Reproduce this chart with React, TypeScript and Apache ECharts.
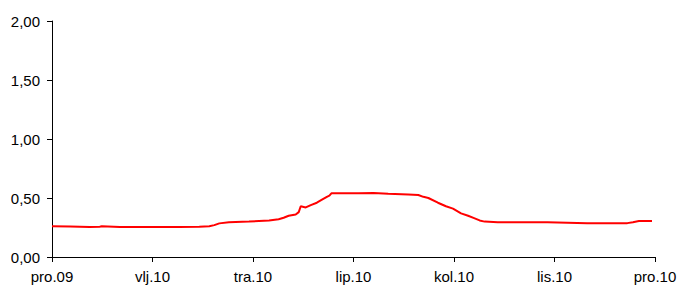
import React, { useEffect, useRef } from "react";
import * as echarts from "echarts";

const tickLabels = ["pro.09", "vlj.10", "tra.10", "lip.10", "kol.10", "lis.10", "pro.10"];
// position in months since pro.09
const monthPos = [
  0, 0.36, 0.75, 0.95, 0.99, 1.35, 1.94, 2.53, 2.93, 3.13, 3.23, 3.33, 3.52, 3.92, 4.32, 4.51,
  4.61, 4.71, 4.85, 4.91, 4.95, 5.05, 5.15, 5.27, 5.39, 5.47, 5.52, 5.56, 6.1, 6.4, 6.69, 7.09,
  7.29, 7.39, 7.49, 7.68, 7.84, 7.98, 8.14, 8.28, 8.4, 8.51, 8.61, 8.87, 9.86, 10.65, 11.45,
  11.56, 11.68, 11.94,
];
const values = [
  0.26, 0.258, 0.255, 0.257, 0.26, 0.255, 0.255, 0.255, 0.257, 0.26, 0.27, 0.285, 0.295, 0.3,
  0.31, 0.32, 0.333, 0.35, 0.36, 0.38, 0.43, 0.42, 0.44, 0.46, 0.49, 0.51, 0.52, 0.54, 0.54,
  0.542, 0.535, 0.53, 0.525, 0.51, 0.5, 0.46, 0.43, 0.41, 0.37, 0.35, 0.33, 0.31, 0.3, 0.295,
  0.295, 0.287, 0.287, 0.295, 0.305, 0.305,
];

export default function App() {
  const ref = useRef<HTMLDivElement>(null);
  useEffect(() => {
    if (!ref.current) return;
    const chart = echarts.init(ref.current, null, { renderer: "svg" });
    const font = { fontFamily: "Liberation Sans, Arial, sans-serif", fontSize: 15, color: "#000" };
    chart.setOption({
      animation: false,
      grid: { left: 52, right: 25, top: 21, bottom: 30 },
      xAxis: {
        type: "value",
        min: 0,
        max: 12,
        interval: 2,
        axisLine: { lineStyle: { color: "#000", width: 1 } },
        axisTick: { show: true, length: 5, lineStyle: { color: "#000" } },
        splitLine: { show: false },
        axisLabel: {
          ...font,
          margin: 12,
          formatter: (v: number) => tickLabels[Math.round(v / 2)] ?? "",
        },
      },
      yAxis: {
        type: "value",
        min: 0,
        max: 2,
        interval: 0.5,
        axisLine: { show: true, lineStyle: { color: "#000", width: 1 } },
        axisTick: { show: true, length: 5, lineStyle: { color: "#000" } },
        splitLine: { show: false },
        axisLabel: {
          ...font,
          margin: 12,
          formatter: (v: number) => v.toFixed(2).replace(".", ","),
        },
      },
      series: [
        {
          type: "line",
          data: monthPos.map((m, i) => [m, values[i]]),
          showSymbol: false,
          lineStyle: { color: "#ff0000", width: 2 },
        },
      ],
    });
    return () => chart.dispose();
  }, []);
  return <div ref={ref} style={{ width: 680, height: 287, position: "absolute", left: 0, top: 0 }} />;
}
